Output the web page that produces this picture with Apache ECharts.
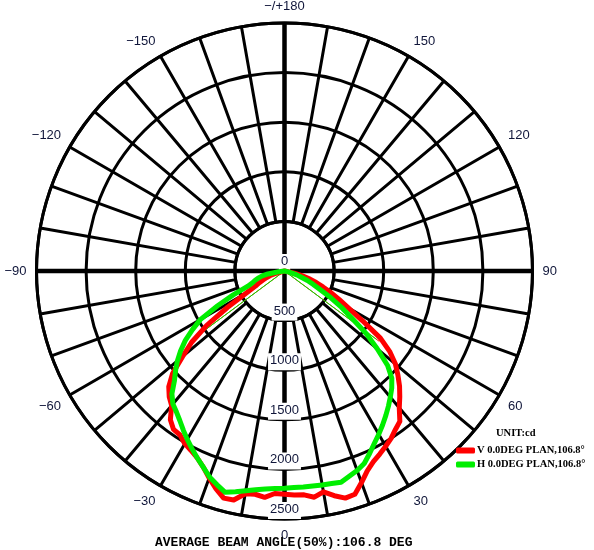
<!DOCTYPE html>
<html>
<head>
<meta charset="utf-8">
<script src="https://cdn.jsdelivr.net/npm/echarts@6.0.0/dist/echarts.min.js"></script>
<style>
  html, body { margin: 0; padding: 0; background: #fff; }
  #main { width: 594px; height: 550px; }
</style>
</head>
<body>
<div id="main"></div>
<script>
// angle 0 = straight down, +90 = right, -90 = left (candela)
const angles = [
  -90, -87.5, -85, -82.5, -80, -77.5, -75, -72.5, -70, -67.5, -65, -62.5,
  -60, -57.5, -55, -52.5, -50, -47.5, -45, -42.5, -40, -37.5, -35, -32.5,
  -30, -27.5, -25, -22.5, -20, -17.5, -15, -12.5, -10, -7.5, -5, -2.5,
  0, 2.5, 5, 7.5, 10, 12.5, 15, 17.5, 20, 22.5, 25, 27.5,
  30, 32.5, 35, 37.5, 40, 42.5, 45, 47.5, 50, 52.5, 55, 57.5,
  60, 62.5, 65, 67.5, 70, 72.5, 75, 77.5, 80, 82.5, 85, 87.5, 90
];
const vPlan = [
  0, 0, 0, 0, 0, 0, 100, 150, 190, 230, 280, 330,
  440, 680, 960, 1180, 1340, 1530, 1650, 1720, 1770, 1890, 1950, 1960,
  2010, 2040, 2080, 2140, 2220, 2300, 2370, 2365, 2280, 2270, 2290, 2245,
  2250, 2260, 2265, 2300, 2260, 2320, 2370, 2360, 2270, 2180, 2120, 2080,
  2040, 2000, 1950, 1910, 1800, 1720, 1640, 1550, 1460, 1340, 1180, 930,
  740, 620, 520, 420, 340, 270, 180, 100, 0, 0, 0, 0, 0
];
const hPlan = [
  0, 0, 0, 60, 170, 230, 270, 310, 340, 400, 570, 760,
  980, 1100, 1220, 1320, 1410, 1490, 1570, 1680, 1750, 1790, 1840, 1900,
  1960, 2020, 2080, 2140, 2210, 2260, 2310, 2280, 2250, 2225, 2205, 2195,
  2190, 2185, 2185, 2185, 2190, 2195, 2205, 2170, 2140, 2100, 2030, 1960,
  1900, 1840, 1780, 1720, 1660, 1600, 1530, 1410, 1220, 1040, 830, 680,
  540, 400, 320, 250, 170, 130, 80, 40, 0, 0, 0, 0, 0
];
const beamHalfAngle = 53.4;
const vHalf = 1190;
const hHalf = 1155;
const radiusMax = 2500;
const radiusStep = 500;

const vName = 'V 0.0DEG PLAN,106.8°';
const hName = 'H 0.0DEG PLAN,106.8°';

const toAxisAngle = a => (a + 360) % 360;
const curve = vals => vals.map((v, i) => [v, toAxisAngle(angles[i])]);
const beamLines = r => [[r, toAxisAngle(-beamHalfAngle)], [0, 0], [r, toAxisAngle(beamHalfAngle)]];

const center = [284.5, 271];
const outerR = 248;
const innerR = outerR * radiusStep / radiusMax;

const myChart = echarts.init(document.getElementById('main'));

const angleLabel = v => {
  if (v % 30 !== 0 || v === 360) return '';
  if (v === 180) return '−/+180';
  return v > 180 ? '−' + (360 - v) : String(v);
};

const option = {
  animation: false,
  backgroundColor: '#fff',
  title: [
    {
      text: 'AVERAGE BEAM ANGLE(50%):106.8 DEG',
      left: 155,
      top: 536,
      padding: 0,
      textStyle: { fontFamily: 'Liberation Mono', fontSize: 13, fontWeight: 'bold', color: '#000' }
    },
    {
      text: 'UNIT:cd',
      left: 496,
      top: 428,
      padding: 0,
      textStyle: { fontFamily: 'Liberation Serif', fontSize: 10.5, fontWeight: 'bold', color: '#000' }
    }
  ],
  legend: {
    orient: 'vertical',
    left: 456,
    top: 445,
    padding: 0,
    itemWidth: 19,
    itemHeight: 6,
    itemGap: 3,
    icon: 'roundRect',
    data: [vName, hName],
    textStyle: { fontFamily: 'Liberation Serif', fontSize: 10.5, fontWeight: 'bold', color: '#000', padding: [0, 0, 0, -3] }
  },
  polar: [
    { center: center, radius: [0, outerR] },
    { center: center, radius: [innerR, outerR] }
  ],
  angleAxis: [
    {
      polarIndex: 0,
      type: 'value',
      min: 0,
      max: 360,
      interval: 90,
      startAngle: 270,
      clockwise: false,
      axisLine: { show: false },
      axisTick: { show: false },
      axisLabel: { show: false },
      splitLine: { show: true, lineStyle: { color: '#000', width: 4.5 } }
    },
    {
      polarIndex: 1,
      type: 'value',
      min: 0,
      max: 360,
      interval: 10,
      startAngle: 270,
      clockwise: false,
      axisLine: { show: true, lineStyle: { color: '#000', width: 3 } },
      axisTick: { show: false },
      axisLabel: {
        show: true,
        margin: 10,
        formatter: angleLabel,
        fontFamily: 'Liberation Sans',
        fontSize: 13,
        color: '#10163a'
      },
      splitLine: { show: true, lineStyle: { color: '#000', width: 3 } }
    }
  ],
  radiusAxis: [
    {
      polarIndex: 0,
      min: 0,
      max: radiusMax,
      interval: radiusStep,
      z: 1,
      axisLine: { show: false },
      axisTick: { show: false },
      splitLine: { show: false },
      axisLabel: {
        show: true,
        margin: 0,
        align: 'center',
        verticalAlign: 'bottom',
        backgroundColor: '#fff',
        padding: [1, 2, 3, 2],
        formatter: v => String(v),
        fontFamily: 'Liberation Sans',
        fontSize: 13,
        color: '#10163a'
      }
    },
    {
      polarIndex: 1,
      min: radiusStep,
      max: radiusMax,
      interval: radiusStep,
      axisLine: { show: false },
      axisTick: { show: false },
      axisLabel: { show: false },
      splitLine: { show: true, lineStyle: { color: '#000', width: 3 } }
    }
  ],
  series: [
    {
      name: 'vBeam',
      type: 'line',
      coordinateSystem: 'polar',
      polarIndex: 0,
      data: beamLines(vHalf),
      showSymbol: false,
      lineStyle: { color: '#ff0000', width: 1 },
      z: 3
    },
    {
      name: 'hBeam',
      type: 'line',
      coordinateSystem: 'polar',
      polarIndex: 0,
      data: beamLines(hHalf),
      showSymbol: false,
      lineStyle: { color: '#00ee00', width: 1 },
      z: 3
    },
    {
      name: vName,
      type: 'line',
      coordinateSystem: 'polar',
      polarIndex: 0,
      data: curve(vPlan),
      showSymbol: false,
      itemStyle: { color: '#ff0000' },
      lineStyle: { color: '#ff0000', width: 5, cap: 'round', join: 'round' },
      z: 4
    },
    {
      name: hName,
      type: 'line',
      coordinateSystem: 'polar',
      polarIndex: 0,
      data: curve(hPlan),
      showSymbol: false,
      itemStyle: { color: '#00ee00' },
      lineStyle: { color: '#00ee00', width: 5, cap: 'round', join: 'round' },
      z: 5
    }
  ]
};

myChart.setOption(option);
</script>
</body>
</html>
